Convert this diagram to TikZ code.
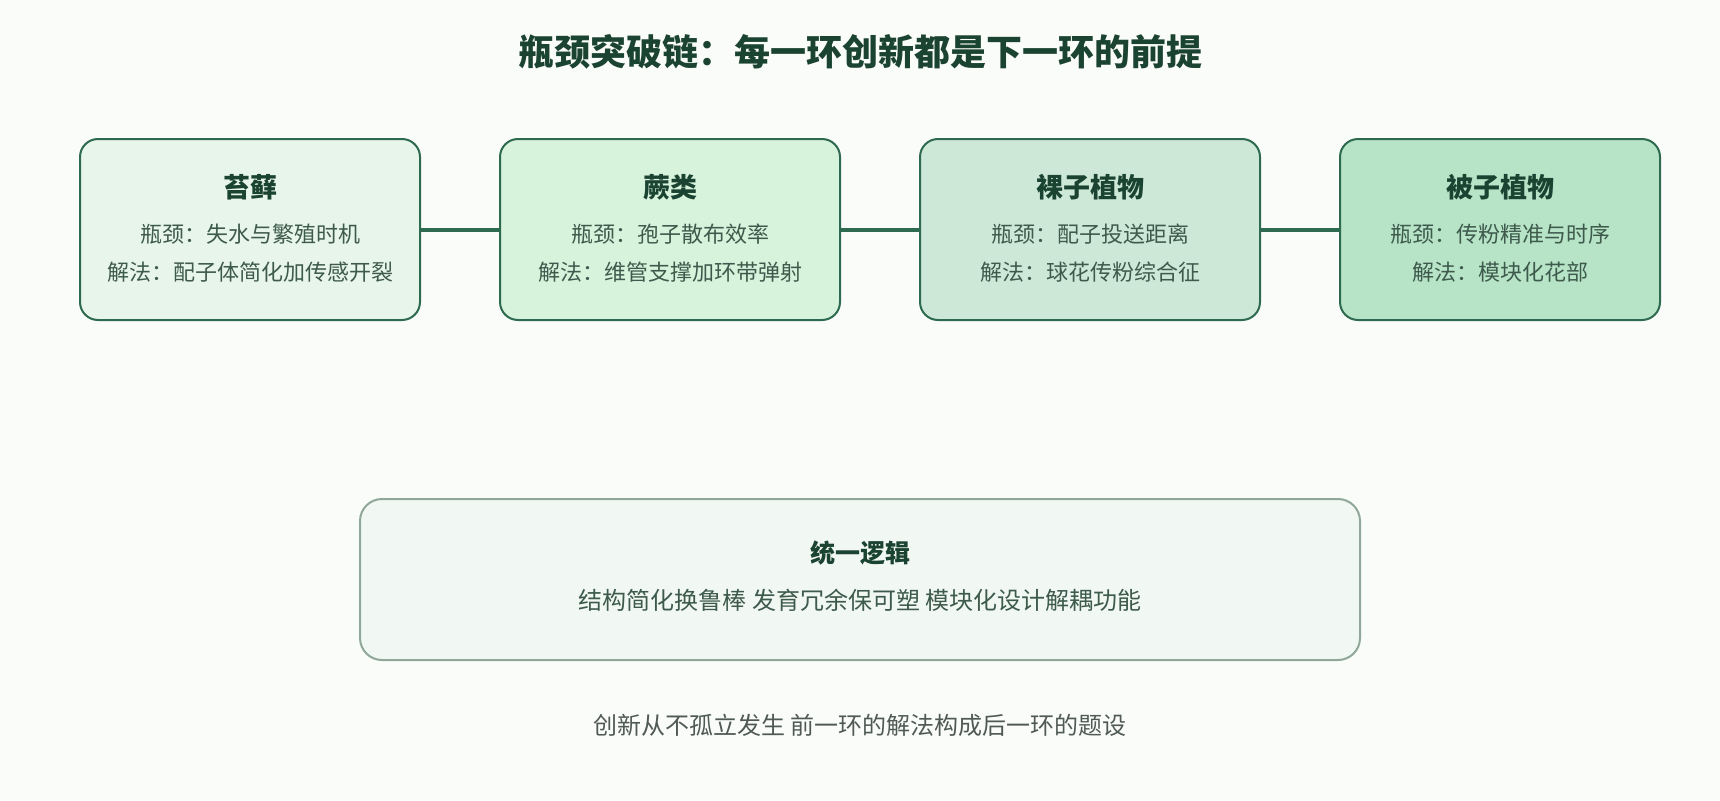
\documentclass[tikz,border=0pt]{standalone}
\usepackage{fontspec}
\setmainfont{Noto Sans CJK SC}
\definecolor{bg}{HTML}{FAFCFA}
\definecolor{edge}{HTML}{2D6A4F}
\definecolor{ttl}{HTML}{1B4332}
\definecolor{bodytxt}{HTML}{3D5A4C}
\definecolor{foot}{HTML}{505A55}
\definecolor{fa}{HTML}{E8F5EA}
\definecolor{fb}{HTML}{D8F3DC}
\definecolor{fc}{HTML}{CDE8D6}
\definecolor{fd}{HTML}{B7E4C7}
\definecolor{fe}{HTML}{F1F7F3}
\definecolor{ee}{HTML}{8FA89A}
\tikzset{
  stagebox/.style={draw=edge, line width=2pt, rounded corners=18pt, minimum height=181pt, inner sep=0pt},
  boxtitle/.style={inner sep=0pt, font=\fontsize{27}{30}\selectfont\bfseries, text=ttl},
  boxline/.style={inner sep=0pt, font=\fontsize{22}{26}\selectfont, text=bodytxt},
  link/.style={draw=edge, line width=4pt},
}
\begin{document}
\begin{tikzpicture}[x=1pt,y=-1pt]
\fill[bg] (0,0) rectangle (1720,800);
\useasboundingbox (0,0) rectangle (1720,800);
\node[inner sep=0pt, font=\fontsize{36}{40}\selectfont\bfseries, text=ttl] (title) at (860,52) {瓶颈突破链：每一环创新都是下一环的前提};

\node[stagebox, fill=fa, minimum width=340pt] (b1) at (250,229.5) {};
\node[stagebox, fill=fb, minimum width=340pt] (b2) at (670,229.5) {};
\node[stagebox, fill=fc, minimum width=340pt] (b3) at (1090,229.5) {};
\node[stagebox, fill=fd, minimum width=320pt] (b4) at (1500,229.5) {};

\draw[link] (b1.east) -- (b2.west);
\draw[link] (b2.east) -- (b3.west);
\draw[link] (b3.east) -- (b4.west);

\node[boxtitle] (t1) at (250,187) {苔藓};
\node[boxline] (p1) at (250,234) {瓶颈：失水与繁殖时机};
\node[boxline] (s1) at (250,272) {解法：配子体简化加传感开裂};

\node[boxtitle] (t2) at (670,187) {蕨类};
\node[boxline] (p2) at (670,234) {瓶颈：孢子散布效率};
\node[boxline] (s2) at (670,272) {解法：维管支撑加环带弹射};

\node[boxtitle] (t3) at (1090,187) {裸子植物};
\node[boxline] (p3) at (1090,234) {瓶颈：配子投送距离};
\node[boxline] (s3) at (1090,272) {解法：球花传粉综合征};

\node[boxtitle] (t4) at (1500,187) {被子植物};
\node[boxline] (p4) at (1500,234) {瓶颈：传粉精准与时序};
\node[boxline] (s4) at (1500,272) {解法：模块化花部};

\node[draw=ee, line width=2pt, fill=fe, rounded corners=22pt, minimum width=1000pt, minimum height=161pt, inner sep=0pt] (u) at (860,579.5) {};
\node[inner sep=0pt, font=\fontsize{25}{30}\selectfont\bfseries, text=ttl] (ut) at (860,553) {统一逻辑};
\node[inner sep=0pt, font=\fontsize{24}{28}\selectfont, text=bodytxt] (ub) at (860,600) {结构简化换鲁棒 发育冗余保可塑 模块化设计解耦功能};

\node[inner sep=0pt, font=\fontsize{24}{28}\selectfont, text=foot] (ft) at (860,725) {创新从不孤立发生 前一环的解法构成后一环的题设};
\end{tikzpicture}
\end{document}
